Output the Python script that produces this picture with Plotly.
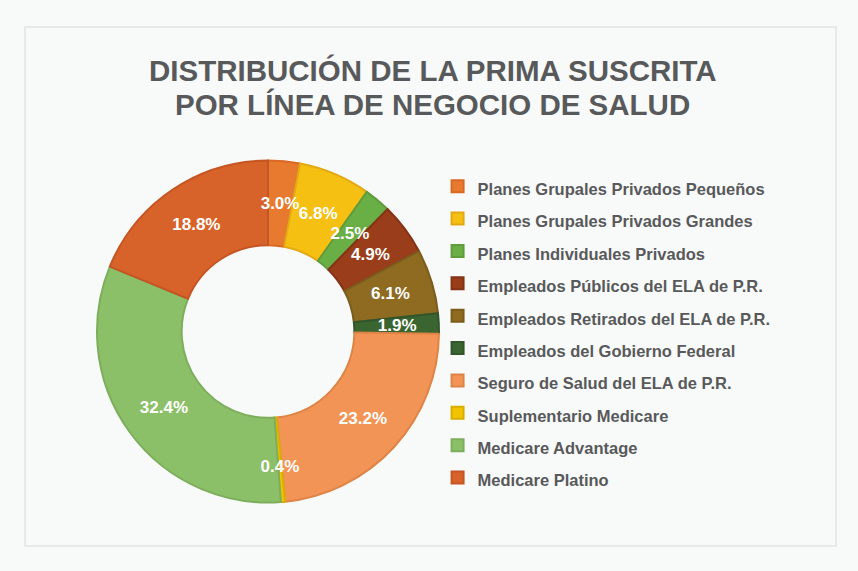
import plotly.graph_objects as go

categories = [
    "Planes Grupales Privados Pequeños",
    "Planes Grupales Privados Grandes",
    "Planes Individuales Privados",
    "Empleados Públicos del ELA de P.R.",
    "Empleados Retirados del ELA de P.R.",
    "Empleados del Gobierno Federal",
    "Seguro de Salud del ELA de P.R.",
    "Suplementario Medicare",
    "Medicare Advantage",
    "Medicare Platino",
]
values = [3.0, 6.8, 2.5, 4.9, 6.1, 1.9, 23.2, 0.4, 32.4, 18.8]
colors = ["#E87A30", "#F6C012", "#6AAF45", "#9A3D1A", "#8F6B22",
          "#3A6430", "#F29455", "#F2C400", "#8CC068", "#D8632A"]
edge_colors = ["#D86A24", "#E3A914", "#5E9C3C", "#853317", "#7C5C1C",
               "#30562A", "#DE8446", "#D9AE00", "#7DAE5C", "#C55522"]
title_lines = ["DISTRIBUCIÓN DE LA PRIMA SUSCRITA", "POR LÍNEA DE NEGOCIO DE SALUD"]

W, H = 858, 571
legend_names = [f'<span style="font-size:16.5px">{c}</span>' for c in categories]
labels_txt = [f"{v:.1f}%" for v in values]
big_txt = [t if v >= 10 else "" for t, v in zip(labels_txt, values)]
small_txt = [t if v < 10 else "" for t, v in zip(labels_txt, values)]

cx, cy, R, R_lab = 268, 331.5, 171, 137
domain = dict(x=[(cx - R) / W, (cx + R) / W], y=[1 - (cy + R) / H, 1 - (cy - R) / H])
domain_lab = dict(x=[(cx - R_lab) / W, (cx + R_lab) / W],
                  y=[1 - (cy + R_lab) / H, 1 - (cy - R_lab) / H])
label_font = dict(family="Liberation Sans", size=17, color="white", weight="bold")

# colored donut, carrying the labels of the large slices
fig = go.Figure(go.Pie(
    labels=legend_names,
    values=values,
    text=big_txt,
    textinfo="text",
    textposition="inside",
    insidetextorientation="horizontal",
    textfont=label_font,
    marker=dict(colors=colors, line=dict(color=edge_colors, width=2)),
    hole=0.505,
    sort=False,
    direction="clockwise",
    rotation=0,
    domain=domain,
    hoverinfo="label+percent",
))
# transparent thin ring on top carrying the labels of the small slices
fig.add_trace(go.Pie(
    labels=legend_names,
    values=values,
    text=small_txt,
    textinfo="text",
    textposition="inside",
    insidetextorientation="horizontal",
    textfont=label_font,
    marker=dict(colors=["rgba(0,0,0,0)"] * len(values), line=dict(width=0)),
    hole=0.87,
    sort=False,
    direction="clockwise",
    rotation=0,
    domain=domain_lab,
    showlegend=False,
    hoverinfo="skip",
))

title_y = [71, 104]
annotations = [dict(text=t, xref="paper", yref="paper", x=433 / W, y=1 - yy / H,
                    xanchor="center", yanchor="middle", showarrow=False,
                    font=dict(family="Liberation Sans", size=29.5, color="#58595B", weight="bold"))
               for t, yy in zip(title_lines, title_y)]

fig.update_layout(
    width=W, height=H,
    margin=dict(l=0, r=0, t=0, b=0),
    paper_bgcolor="#F8F9F9",
    plot_bgcolor="#F8F9F9",
    annotations=annotations,
    uniformtext=dict(minsize=17, mode="show"),
    legend=dict(x=0.51, xanchor="left", y=1 - 165 / H, yanchor="top",
                font=dict(family="Liberation Sans", size=22.6, color="#58595B", weight="bold"),
                itemwidth=30, bgcolor="rgba(0,0,0,0)"),
    shapes=[dict(type="rect", xref="paper", yref="paper",
                 x0=25 / W, x1=836 / W, y0=1 - 546 / H, y1=1 - 27 / H,
                 line=dict(color="#E2E4E4", width=1.5), fillcolor="rgba(0,0,0,0)", layer="below")],
)

fig.write_html("out.html", config={"displayModeBar": False},
               post_script="document.body.style.margin='0px';")
